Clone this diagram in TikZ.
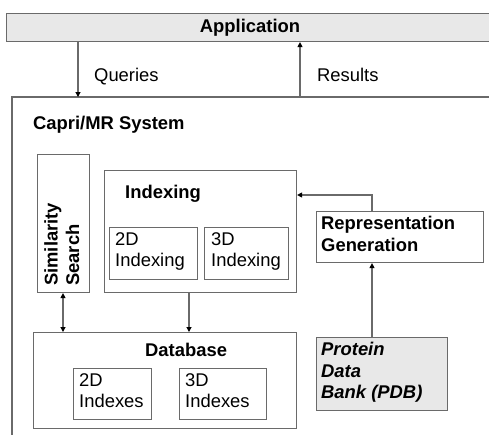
\documentclass[tikz,border=0pt]{standalone}
\usepackage{fontspec}
\setmainfont{Liberation Sans}
\usetikzlibrary{arrows.meta}
\definecolor{edge}{HTML}{6A6A6A}
\definecolor{shade}{HTML}{E8E8E8}
\tikzset{
  box/.style={draw=edge, line width=1.1pt, anchor=north west, inner sep=0pt},
  shaded/.style={box, fill=shade},
  lbl/.style={inner sep=0pt, font=\fontsize{18.4}{21.5}\selectfont, align=left},
  blbl/.style={lbl, font=\fontsize{18.4}{21.5}\selectfont\bfseries},
  link/.style={draw=edge, line width=1.1pt, -{Triangle[length=5pt,width=5pt,fill=black,color=black]}},
  dlink/.style={link, {Triangle[length=5pt,width=5pt,fill=black,color=black]}-{Triangle[length=5pt,width=5pt,fill=black,color=black]}}
}
\begin{document}
\begin{tikzpicture}[x=1pt,y=-1pt]
\useasboundingbox (0,0) rectangle (489,434);

% application layer
\node[shaded, minimum width=500pt, minimum height=28pt] (app) at (6,13) {};
\node[blbl, anchor=center] at (250,28) {Application};

% system frame (open to the right and below)
\coordinate (sysq) at (78,97);
\coordinate (sysr) at (300,97);
\draw[edge, line width=1.1pt] (12,440) -- (12,97) -- (495,97);
\node[blbl, anchor=base west] at (33,129) {Capri/MR System};

\draw[link] (app.south -| sysq) -- (sysq);
\draw[link] (sysr) -- (app.south -| sysr);
\node[lbl, anchor=base west] at (94,81) {Queries};
\node[lbl, anchor=base west] at (317,81) {Results};

% similarity search
\node[box, minimum width=52pt, minimum height=138pt] (sim) at (37,154) {};
\node[blbl, rotate=90, anchor=north west] at (44,286) {Similarity\\Search};

% indexing
\node[box, minimum width=192pt, minimum height=122pt] (idx) at (104,170) {};
\node[blbl, anchor=base west] at (125,198) {Indexing};
\node[box, minimum width=88pt, minimum height=52pt] (i2) at (109,227) {};
\node[lbl, anchor=north west] at (115,232) {2D\\Indexing};
\node[box, minimum width=84pt, minimum height=52pt] (i3) at (204,227) {};
\node[lbl, anchor=north west] at (211,232) {3D\\Indexing};

% database
\node[box, minimum width=263pt, minimum height=96pt] (db) at (33,332) {};
\node[blbl, anchor=base west] at (145,356) {Database};
\node[box, minimum width=78pt, minimum height=51pt] (d2) at (73,368) {};
\node[lbl, anchor=north west] at (79,373) {2D\\Indexes};
\node[box, minimum width=87pt, minimum height=51pt] (d3) at (179,368) {};
\node[lbl, anchor=north west] at (185,373) {3D\\Indexes};

% representation generation
\node[box, minimum width=167pt, minimum height=51pt] (rep) at (316,211) {};
\node[blbl, anchor=north west] at (321,216) {Representation\\Generation};

% protein data bank
\node[shaded, minimum width=131pt, minimum height=73pt] (pdb) at (316,337) {};
\node[blbl, anchor=north west, font=\fontsize{18.4}{21.5}\selectfont\bfseries\itshape] at (321,342) {Protein\\Data\\Bank (PDB)};

% connectors
\coordinate (bend) at (372,195);
\draw[link] (rep.north -| bend) -- (bend) -- (idx.east |- bend);
\draw[link] (pdb.north -| bend) -- (rep.south -| bend);
\coordinate (simx) at (63,0);
\coordinate (idxx) at (189,0);
\draw[dlink] (sim.south -| simx) -- (db.north -| simx);
\draw[link] (idx.south -| idxx) -- (db.north -| idxx);
\end{tikzpicture}
\end{document}
